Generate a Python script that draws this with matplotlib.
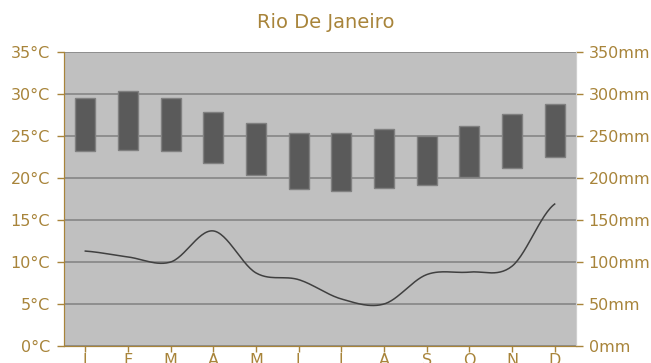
import matplotlib.pyplot as plt
import numpy as np

# Rio de Janeiro climate normals
months = ["J", "F", "M", "A", "M", "J", "J", "A", "S", "O", "N", "D"]
temp_high = [29.5, 30.3, 29.5, 27.9, 26.5, 25.3, 25.4, 25.8, 25.0, 26.15, 27.6, 28.8]
temp_low = [23.2, 23.3, 23.2, 21.75, 20.3, 18.7, 18.4, 18.85, 19.2, 20.15, 21.2, 22.5]
rain_mm = [113, 106, 100, 137, 87, 79, 56, 50, 85, 88, 95, 169]

GOLD = "#A8843A"
plt.rcParams["font.family"] = ["DejaVu Sans"]


def smooth(x, y, n=30):
    # Catmull-Rom spline through the points
    x = np.asarray(x, float)
    y = np.asarray(y, float)
    px = np.concatenate([[2 * x[0] - x[1]], x, [2 * x[-1] - x[-2]]])
    py = np.concatenate([[y[0]], y, [y[-1]]])
    xs, ys = [], []
    t = np.linspace(0, 1, n)
    for i in range(1, len(px) - 2):
        for arr, out in ((px, xs), (py, ys)):
            p0, p1, p2, p3 = arr[i - 1], arr[i], arr[i + 1], arr[i + 2]
            out.extend(0.5 * ((2 * p1) + (-p0 + p2) * t
                              + (2 * p0 - 5 * p1 + 4 * p2 - p3) * t ** 2
                              + (-p0 + 3 * p1 - 3 * p2 + p3) * t ** 3))
    return np.array(xs), np.array(ys)


fig = plt.figure(figsize=(6.51, 3.63), dpi=100)
ax = fig.add_axes([0.0983, 0.0468, 0.7865, 0.81])
ax.set_facecolor("#C0C0C0")

x = np.arange(len(months))
ax.set_xlim(-0.5, 11.5)
ax.set_ylim(0, 35)
ax.set_yticks(range(0, 36, 5))
ax.set_yticklabels([f"{v}°C" for v in range(0, 36, 5)])
ax.yaxis.grid(True, color="#8A8A8A", linewidth=1.3)
ax.set_axisbelow(True)

heights = np.array(temp_high) - np.array(temp_low)
ax.bar(x, heights, bottom=temp_low, width=0.47, color="#5A5A5A",
       edgecolor="#808080", linewidth=1, zorder=3)

ax.set_xticks(x)
ax.set_xticklabels(months)

ax2 = ax.twinx()
ax2.set_ylim(0, 350)
ax2.set_yticks(range(0, 351, 50))
ax2.set_yticklabels([f"{v}mm" for v in range(0, 351, 50)])
sx, sy = smooth(x, rain_mm)
ax2.plot(sx, sy, color="#404040", linewidth=1.1, zorder=4)

for a in (ax, ax2):
    a.spines["top"].set_visible(False)
    a.spines["right"].set_color("#CFCFCF")
    a.spines["left"].set_color(GOLD)
    a.spines["bottom"].set_color(GOLD)
    a.tick_params(colors=GOLD, labelcolor=GOLD, labelsize=11.5, length=5,
                  width=1, pad=4)
ax.tick_params(axis="x", length=4, pad=1)
ax.tick_params(axis="y", pad=5)

fig.text(0.5, 1 - 22 / 363, "Rio De Janeiro", color=GOLD, fontsize=14,
         ha="center", va="center")

fig.savefig("out.png", dpi=100)
